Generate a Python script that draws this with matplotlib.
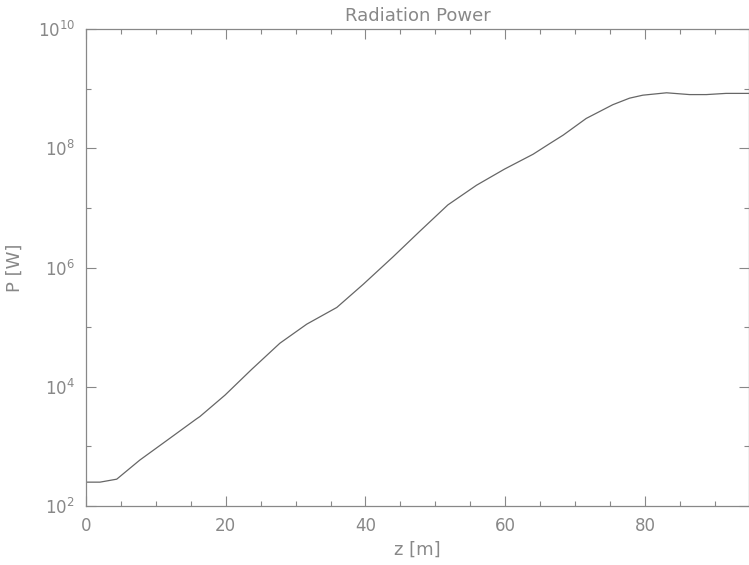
import numpy as np
import matplotlib
matplotlib.use('Agg')
import matplotlib.pyplot as plt
from matplotlib.ticker import FixedLocator, FuncFormatter, NullFormatter

# radiation power along the undulator (log10 of P in W)
z_m = [0.0, 2.0, 4.4, 7.7, 11.7, 15.8, 16.3, 19.9, 23.7, 27.75, 31.6, 35.9,
       39.7, 43.96, 47.8, 51.8, 55.9, 59.9, 64.0, 66.4, 68.3, 71.6, 75.4,
       77.8, 79.7, 83.1, 86.4, 88.8, 91.6, 94.85]
log_p = [2.40, 2.40, 2.45, 2.77, 3.11, 3.46, 3.50, 3.86, 4.29, 4.73, 5.05, 5.33,
         5.72, 6.18, 6.61, 7.05, 7.38, 7.65, 7.90, 8.08, 8.22, 8.50, 8.73,
         8.84, 8.89, 8.93, 8.90, 8.90, 8.92, 8.92]

x_major = [0, 20, 40, 60, 80]
y_major_exp = [2, 4, 6, 8, 10]

grey = '#888888'
plt.rcParams['font.family'] = ['DejaVu Sans']

fig = plt.figure(figsize=(7.49, 5.65), dpi=100)
ax = fig.add_axes([86 / 749, 1 - 506 / 565, 663 / 749, 477 / 565])

power = 10.0 ** np.array(log_p)
ax.plot(z_m, power, color='#666666', lw=0.9)

ax.set_yscale('log')
ax.set_xlim(0, 94.9)
ax.set_ylim(1e2, 1e10)

ax.xaxis.set_major_locator(FixedLocator(x_major))
ax.xaxis.set_minor_locator(FixedLocator(np.arange(0, 95, 5)))
ax.yaxis.set_major_locator(FixedLocator([10.0 ** e for e in y_major_exp]))
ax.yaxis.set_minor_locator(FixedLocator([10.0 ** e for e in (3, 5, 7, 9)]))
ax.yaxis.set_major_formatter(FuncFormatter(
    lambda v, p: r'$\mathregular{10^{%d}}$' % round(np.log10(v))))
ax.yaxis.set_minor_formatter(NullFormatter())

ax.tick_params(which='both', direction='in', top=True, right=True,
               color=grey, labelcolor=grey, labelsize=12, width=0.8)
ax.tick_params(which='major', length=7.5, pad=8)
ax.tick_params(which='minor', length=3.8)
for s in ax.spines.values():
    s.set_color(grey)
    s.set_linewidth(0.9)

ax.set_title('Radiation Power', color=grey, fontsize=13, pad=6)
ax.set_xlabel('z [m]', color=grey, fontsize=13, labelpad=4)
ax.set_ylabel('P [W]', color=grey, fontsize=13, labelpad=10)

fig.savefig('out.png', dpi=100)
